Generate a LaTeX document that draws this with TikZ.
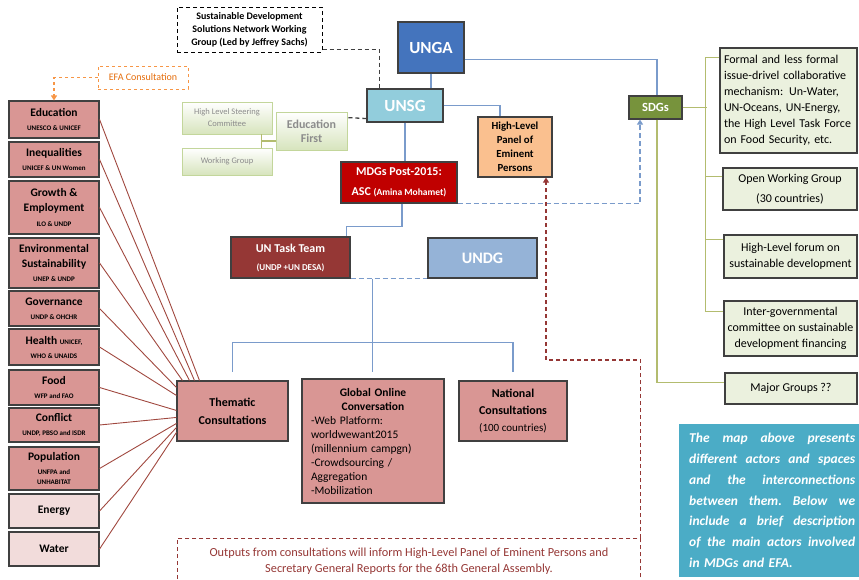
\documentclass[tikz,border=0pt]{standalone}
\usepackage{fontspec}
\setmainfont{Carlito}
\usetikzlibrary{arrows.meta,calc}
\definecolor{bc}{HTML}{404040}
\definecolor{pinkD}{HTML}{D99694}
\definecolor{pinkL}{HTML}{F2DCDB}
\definecolor{fan}{HTML}{A0483F}
\definecolor{ungaC}{HTML}{4474BD}
\definecolor{unsgC}{HTML}{92CDDC}
\definecolor{hlpC}{HTML}{FAC08F}
\definecolor{mdgC}{HTML}{C00000}
\definecolor{taskC}{HTML}{953735}
\definecolor{undgC}{HTML}{95B3D7}
\definecolor{sdgC}{HTML}{77933C}
\definecolor{rgC}{HTML}{EBF1DE}
\definecolor{tealC}{HTML}{4BACC6}
\definecolor{glineC}{HTML}{B3BC6F}
\definecolor{blineC}{HTML}{7A9BCB}
\definecolor{dred}{HTML}{953735}
\definecolor{orC}{HTML}{F79646}
\definecolor{orT}{HTML}{E46C0A}
\definecolor{efG}{HTML}{D7E4BD}
\definecolor{efB}{HTML}{C3D69B}
\definecolor{efT}{HTML}{8C8C8C}
\newcommand\fsz[2]{\fontsize{#1}{#2}\selectfont}
\newcommand\subt[1]{{\fsz{7}{8}#1}}
\newcommand\jline[1]{\leavevmode\hbox to 166pt{#1}}
\begin{document}
\begin{tikzpicture}[x=1pt,y=-1pt,
  box/.style={draw=bc, line width=1.1pt, inner sep=0pt, align=center},
  lbox/.style={box, fill=pinkD, minimum width=90pt, font=\fsz{11.5}{14}\bfseries},
  lboxl/.style={lbox, fill=pinkL},
  rbox/.style={box, fill=rgC, font=\fsz{12}{16}},
  fanl/.style={draw=fan, line width=0.9pt},
  bl/.style={draw=blineC, line width=1.1pt},
  gl/.style={draw=glineC, line width=1.6pt},
  efbox/.style={draw=efB, line width=0.8pt, top color=white, bottom color=efG, inner sep=0pt, align=center, text=efT},
  dsh/.style={dash pattern=on 4pt off 3pt},
  tip/.style={-{Triangle[length=5pt,width=6pt]}}
]
\useasboundingbox (0,0) rectangle (859,579);
\clip (0,0) rectangle (859,579);

% left column
\node[lbox, minimum height=37pt] (edu) at (54,119.5) {Education\\\subt{UNESCO \& UNICEF}};
\node[lbox, minimum height=35pt] (ineq) at (54,159.5) {Inequalities\\\subt{UNICEF \& UN Women}};
\node[lbox, minimum height=53pt, font=\fsz{11.5}{15}\bfseries] (growth) at (54,207.5) {Growth \&\\Employment\\\subt{ILO \& UNDP}};
\node[lbox, minimum height=50pt, font=\fsz{11.5}{14.5}\bfseries] (env) at (54,263) {Environmental\\Sustainability\\\subt{UNEP \& UNDP}};
\node[lbox, minimum height=35pt] (gov) at (54,308.5) {Governance\\\subt{UNDP \& OHCHR}};
\node[lbox, minimum height=36pt] (health) at (54,347) {Health \subt{UNICEF,}\\\subt{WHO \& UNAIDS}};
\node[lbox, minimum height=35pt] (food) at (54,387.5) {Food\\\subt{WFP and FAO}};
\node[lbox, minimum height=34pt] (conflict) at (54,425) {Conflict\\\subt{UNDP, PBSO and ISDR}};
\node[lbox, minimum height=43pt] (pop) at (54,468.5) {Population\\\subt{UNFPA and}\\[-4pt]\subt{UNHABITAT}};
\node[lboxl, minimum height=34pt] (energy) at (54,511) {Energy};
\node[lboxl, minimum height=34pt] (water) at (54,549) {Water};

\node[draw=orC, dashed, line width=1pt, minimum width=90pt, minimum height=23pt, text=orT, font=\fsz{10}{12}] (efa) at (143,77.5) {EFA Consultation};
\draw[orC, dashed, line width=1.2pt, tip] (efa.west) -| (edu.north);

% top
\node[draw=black, dsh, line width=1pt, minimum width=145pt, minimum height=45pt, inner sep=0pt, align=center, font=\fsz{10}{13}\bfseries] (sdsn) at (249.5,29.5) {Sustainable Development\\Solutions Network Working\\Group (Led by Jeffrey Sachs)};
\node[box, fill=ungaC, draw=bc, minimum width=66pt, minimum height=51pt, text=white, font=\fsz{17}{20}\bfseries] (unga) at (431,47.5) {UNGA};
\node[box, fill=unsgC, minimum width=76pt, minimum height=33pt, text=white, font=\fsz{17}{20}\bfseries] (unsg) at (405,105.5) {UNSG};
\node[box, fill=hlpC, minimum width=74pt, minimum height=60pt, font=\fsz{10.8}{14}\bfseries] (hlp) at (515,147) {High-Level\\Panel of\\Eminent\\Persons};
\node[box, fill=mdgC, minimum width=116pt, minimum height=41pt, text=white, font=\fsz{12}{20}\bfseries] (mdgs) at (399,182.5) {MDGs Post-2015:\\ASC {\fsz{9.5}{20}(Amina Mohamet)}};
\node[box, fill=taskC, minimum width=119pt, minimum height=41pt, text=white, font=\fsz{12}{18}\bfseries] (task) at (290.5,257.5) {UN Task Team\\{\fsz{9}{18}(UNDP +UN DESA)}};
\node[box, fill=undgC, minimum width=109pt, minimum height=40pt, text=white, font=\fsz{16}{20}\bfseries] (undg) at (482.5,258) {UNDG};
\node[box, fill=sdgC, minimum width=53pt, minimum height=23pt, text=white, font=\fsz{12.5}{14}\bfseries] (sdgs) at (655.5,107.5) {SDGs};

% education first
\node[efbox, minimum width=90pt, minimum height=32pt, font=\fsz{8.5}{12}] (hlsc) at (227,118) {High Level Steering\\Committee};
\node[efbox, minimum width=90pt, minimum height=27pt, font=\fsz{8.5}{12}] (wg) at (227,161.5) {Working Group};
\node[efbox, minimum width=71pt, minimum height=38pt, font=\fsz{12}{14}\bfseries] (edf) at (311.5,131) {Education\\First};
\draw[glineC, line width=1.2pt] ($(hlsc.south east)+(-11,0)$) -- ($(wg.north east)+(-11,0)$);
\coordinate (efj) at ($(hlsc.south east)!0.5!(wg.north east)+(-11,0)$);
\draw[glineC, line width=1.2pt] (efj) -- (efj -| edf.west);
\draw[bc, dsh, line width=1.3pt] ($(unsg.south west)+(0,-4)$) -- ($(edf.north east)+(0,6)$);
\draw[bc, dsh, line width=1.3pt] ($(sdsn.south east)+(0,-3)$) -| ($(unsg.north west)+(13,0)$);

% right column
\node[rbox, minimum width=137pt, minimum height=105pt, text width=129pt, inner xsep=4pt, align=left] (formal) at (788.5,100.5) {\mbox{Formal and less formal}\\\mbox{issue-drivel collaborative}\\\mbox{mechanism: Un-Water,}\\\mbox{UN-Oceans, UN-Energy,}\\\mbox{the High Level Task Force}\\\mbox{on Food Security, etc.}};
\node[rbox, minimum width=134pt, minimum height=42pt, font=\fsz{12}{20}] (open) at (790,189) {Open Working Group\\(30 countries)};
\node[rbox, minimum width=133pt, minimum height=43pt] (hlf) at (790.5,256.5) {High-Level forum on\\sustainable development};
\node[rbox, minimum width=133pt, minimum height=55pt] (inter) at (790.5,328.5) {Inter-governmental\\committee on sustainable\\development financing};
\node[rbox, minimum width=132pt, minimum height=31pt] (major) at (791,388.5) {Major Groups ??};

% bottom
\node[box, fill=pinkD, minimum width=111pt, minimum height=60pt, font=\fsz{12}{18}\bfseries] (them) at (232.5,411) {Thematic\\Consultations};
\node[box, fill=pinkD, minimum width=142pt, minimum height=124pt, text width=124pt, align=left, font=\fsz{11.5}{14}] (glob) at (373,441) {{\centering\bfseries Global Online\\Conversation\par}-Web Platform:\\worldwewant2015\\(millennium campgn)\\-Crowdsourcing /\\Aggregation\\-Mobilization};
\node[box, fill=pinkD, minimum width=108pt, minimum height=60pt, font=\fsz{12}{17}] (natl) at (513,411) {\textbf{National}\\\textbf{Consultations}\\{\fsz{11}{17}(100 countries)}};
\node[draw=dred, dsh, line width=0.9pt, minimum width=463pt, minimum height=45pt, anchor=north west, inner sep=0pt, text=dred, align=center, font=\fsz{12.3}{16}] (outp) at (177,538) {Outputs from consultations will inform High-Level Panel of Eminent Persons and\\Secretary General Reports for the 68th General Assembly.};

\node[fill=tealC, anchor=north west, inner xsep=10pt, inner ysep=9pt, text width=174pt, align=left, text=white, font=\fsz{13.5}{20.8}\bfseries\itshape] (note) at (679,424) {\jline{The\hfill map\hfill above\hfill presents}\\\jline{different\hfill actors\hfill and\hfill spaces}\\\jline{and\hfill the\hfill interconnections}\\\jline{between\hfill them.\hfill Below\hfill we}\\\jline{include\hfill a\hfill brief\hfill description}\\\jline{of\hfill the\hfill main\hfill actors\hfill involved}\\in MDGs and EFA.};

% fan lines
\draw[fanl] (edu.east) -- ($(them.north west)+(23,0)$);
\draw[fanl] (ineq.east) -- ($(them.north west)+(18,0)$);
\draw[fanl] (growth.east) -- ($(them.north west)+(13,0)$);
\draw[fanl] (env.east) -- ($(them.north west)+(6,0)$);
\draw[fanl] (gov.east) -- ($(them.north west)+(0,7)$);
\draw[fanl] (health.east) -- ($(them.north west)+(0,15)$);
\draw[fanl] (food.east) -- ($(them.north west)+(0,30)$);
\draw[fanl] (conflict.east) -- ($(them.north west)+(0,37)$);
\draw[fanl] (pop.east) -- ($(them.north west)+(0,43)$);
\draw[fanl] (energy.east) -- ($(them.north west)+(0,47)$);
\draw[fanl] (water.east) -- ($(them.north west)+(0,52)$);

% blue lines
\draw[bl] (unga.south) -- (unga.south |- unsg.north);
\draw[bl] ($(unga.south east)+(0,-14)$) -| ($(sdgs.north)+(1.5,0)$);
\draw[bl] (unsg.east) -| ($(hlp.north)+(-15,0)$);
\draw[bl] (unsg.south) -- (unsg.south |- mdgs.north);
\draw[bl] ($(mdgs.south)+(3,0)$) -- ++(0,23) -| ($(task.north east)+(-4,0)$);
\draw[bl, dash pattern=on 5pt off 3pt] (task.south east) -- (undg.south west);
\coordinate (tsplit) at ($(task.south east)!0.28!(undg.south west)$);
\coordinate (hub) at ($(tsplit)+(0,64)$);
\draw[bl, shorten >=6pt] (tsplit) -- (tsplit |- glob.north);
\draw[bl, shorten >=8pt] (hub) -| (them.north);
\draw[bl, shorten >=8pt] (hub) -| (natl.north);
\draw[blineC, line width=1.1pt, dash pattern=on 5pt off 3pt, tip] (mdgs.south east) -| ($(sdgs.south)+(-15.5,0)$);

% red dashed feedback
\draw[dred, line width=1.1pt, dsh, tip] (outp.north east) -- ++(0,-178) -| ($(hlp.south)+(31,0)$);

% green lines
\draw[gl] (sdgs.east) -- ++(24,0);
\draw[gl] ($(formal.north west)+(0,10)$) -- ++(-14,0) |- ($(inter.north west)+(0,11)$);
\draw[gl] ($(open.north west)+(0,9)$) -- ++(-17,0);
\draw[gl] ($(hlf.north west)+(0,5)$) -- ++(-18,0);
\draw[gl] ($(sdgs.south)+(1.5,0)$) |- ($(major.west)+(0,-6)$);
\end{tikzpicture}
\end{document}
